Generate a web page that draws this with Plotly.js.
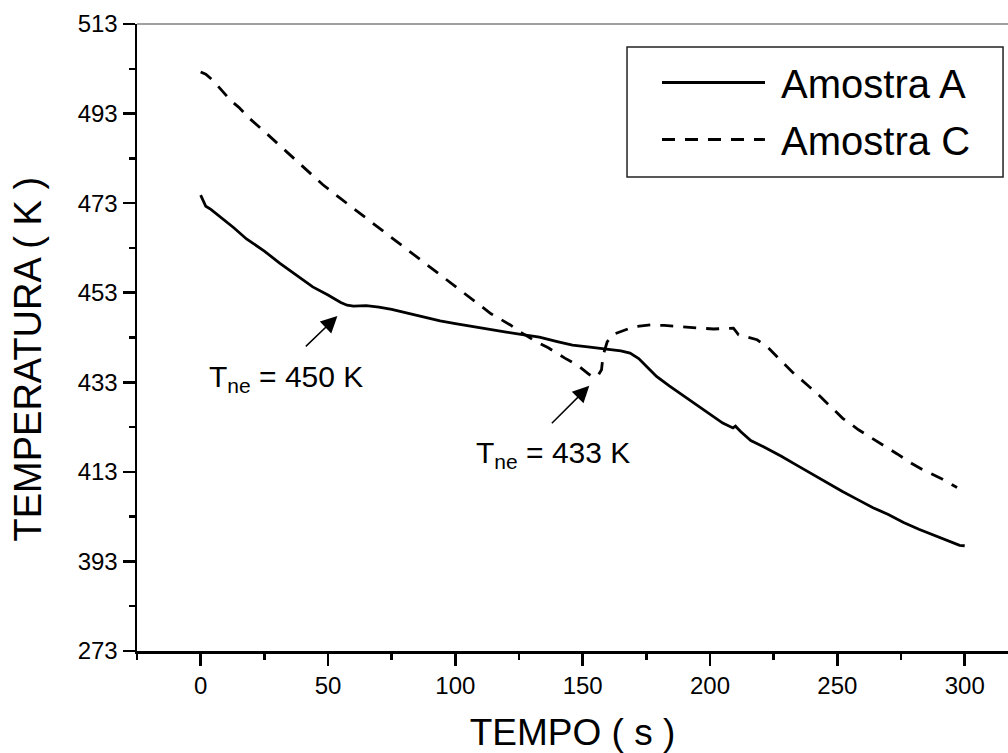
<!DOCTYPE html>
<html>
<head>
<meta charset="utf-8">
<script src="https://cdn.plot.ly/plotly-3.0.1.min.js"></script>
<style>
html, body { margin: 0; padding: 0; background: #ffffff; overflow: hidden; }
#chart { width: 1008px; height: 753px; }
</style>
</head>
<body>
<div id="chart"></div>
<script>
// ---- Data ----
const seriesNames = ["Amostra A", "Amostra C"];

const timeA = [0, 1, 2, 4, 8, 13, 18, 25, 31, 38, 44, 50, 55, 57.5, 60, 65, 70, 75, 80, 85, 90, 94, 100, 107, 113, 120, 127, 133, 140, 146, 152, 159.5, 165, 168.6, 172, 175, 179, 184, 188, 191, 196, 201, 205, 209, 210, 212, 216, 221, 228, 234, 240, 246, 252, 258, 264, 270, 276, 282, 288, 294, 298, 300];
const tempA = [474.8, 473.5, 472.3, 471.6, 469.8, 467.5, 465.0, 462.3, 459.6, 456.8, 454.3, 452.5, 450.8, 450.2, 450.0, 450.1, 449.8, 449.3, 448.6, 448.0, 447.3, 446.7, 446.1, 445.4, 444.9, 444.2, 443.6, 443.1, 442.1, 441.3, 440.9, 440.4, 440.0, 439.5, 438.3, 436.6, 434.3, 432.2, 430.6, 429.3, 427.3, 425.3, 423.9, 422.8, 423.2, 422.0, 420.0, 418.6, 416.5, 414.5, 412.5, 410.5, 408.6, 406.8, 405.0, 403.5, 401.7, 400.2, 398.8, 397.4, 396.6, 396.5];

const timeC = [0, 2, 5, 8, 12, 15, 19, 25, 30, 35, 40, 48, 55, 63, 70, 80, 90, 100, 110, 114, 121.6, 125.6, 132, 136.5, 143, 148, 152, 154, 156, 157.4, 158, 159.6, 162, 165.6, 170, 176.6, 182, 188.4, 195, 201.4, 209.2, 211.2, 218.5, 222.9, 228.4, 232.3, 238.2, 242.6, 248.4, 252, 258.3, 262.3, 268.8, 273.5, 279.4, 283.8, 290.5, 295.5, 297];
const tempC = [502.3, 501.8, 500.3, 498.3, 495.8, 494.4, 492.0, 489.0, 486.4, 483.8, 481.2, 477.1, 474.0, 470.5, 467.5, 463.0, 458.6, 454.3, 450.0, 448.3, 445.8, 444.2, 442.0, 440.7, 438.4, 436.8, 435.0, 434.1, 434.5, 435.8, 439.0, 442.0, 443.7, 444.5, 445.4, 445.8, 445.7, 445.4, 445.2, 444.9, 445.1, 443.6, 442.5, 440.7, 437.5, 435.3, 432.4, 430.2, 427.0, 425.0, 422.4, 421.0, 418.6, 417.0, 414.8, 413.4, 411.6, 409.9, 409.5];

// Axis ticks: the bottom tick is labelled 273 (broken axis in the original)
const yTickVals = [373, 393, 413, 433, 453, 473, 493, 513];
const yTickText = ["273", "393", "413", "433", "453", "473", "493", "513"];
const xTickVals = [0, 50, 100, 150, 200, 250, 300];

// Titles
const xTitle = "TEMPO ( s )";
const yTitle = "TEMPERATURA ( K )";

// Annotations (labels and arrow tips / tails in data units)
const noteTexts = ["T<sub>ne</sub> = 450 K", "T<sub>ne</sub> = 433 K"];
const noteX = [2.5, 107.3];
const noteY = [433.8, 416.8];
const arrowTipX = [53.7, 152.6];
const arrowTipY = [447.8, 432.2];
const arrowTailX = [40.7, 137.3];
const arrowTailY = [440.7, 423.5];

// ---- Plot ----
const FONT = "'Liberation Sans', Arial, Helvetica, sans-serif";
const NB = "\u00a0";

const traces = [
  {
    x: timeA, y: tempA, name: NB + seriesNames[0], type: "scatter", mode: "lines",
    line: { color: "#000000", width: 2.8, dash: "solid" },
    legendgroup: "a"
  },
  {
    x: timeC, y: tempC, name: NB + seriesNames[1], type: "scatter", mode: "lines",
    line: { color: "#000000", width: 2.8, dash: "13px,10px" },
    legendgroup: "c"
  }
];

const annotations = [];
for (let i = 0; i < noteTexts.length; i++) {
  annotations.push({
    x: noteX[i], y: noteY[i], xref: "x", yref: "y",
    text: noteTexts[i], showarrow: false,
    xanchor: "left", yanchor: "middle",
    font: { family: FONT, size: 30, color: "#000000" }
  });
  annotations.push({
    x: arrowTipX[i], y: arrowTipY[i], xref: "x", yref: "y",
    ax: arrowTailX[i], ay: arrowTailY[i], axref: "x", ayref: "y",
    text: "", showarrow: true,
    arrowhead: 2, arrowsize: 2.2, arrowwidth: 1.5, arrowcolor: "#000000"
  });
}
// Y axis title (placed as rotated text, slightly below the axis centre as in the original)
annotations.push({
  x: -0.1246, y: 0.4657, xref: "paper", yref: "paper",
  text: yTitle, textangle: -90, showarrow: false,
  xanchor: "center", yanchor: "middle",
  font: { family: FONT, size: 38, color: "#000000" }
});

const layout = {
  width: 1008, height: 753,
  margin: { l: 137, r: 0, t: 24, b: 102 },
  paper_bgcolor: "#ffffff", plot_bgcolor: "#ffffff",
  font: { family: FONT, color: "#000000" },
  showlegend: true,
  legend: {
    x: 0.597, y: 0.9585, xanchor: "left", yanchor: "top",
    bgcolor: "rgba(0,0,0,0)", borderwidth: 0,
    font: { family: FONT, size: 40, color: "#000000" },
    itemwidth: 103, traceorder: "grouped", tracegroupgap: 2
  },
  xaxis: {
    range: [-25, 317],
    tickvals: xTickVals, ticktext: xTickVals.map(String),
    ticks: "outside", ticklen: 12, tickwidth: 2.5, tickcolor: "#000000",
    minor: { dtick: 25, tick0: 0, ticks: "outside", ticklen: 6, tickwidth: 2.5, tickcolor: "#000000", showgrid: false },
    showline: true, linecolor: "#000000", linewidth: 2.5,
    showgrid: false, zeroline: false,
    tickfont: { family: FONT, size: 24, color: "#000000" },
    title: { text: xTitle, font: { family: FONT, size: 37, color: "#000000" }, standoff: 22 }
  },
  yaxis: {
    range: [373, 513],
    tickvals: yTickVals, ticktext: yTickText,
    ticks: "outside", ticklen: 12, tickwidth: 2.5, tickcolor: "#000000",
    minor: { dtick: 10, tick0: 373, ticks: "outside", ticklen: 6, tickwidth: 2.5, tickcolor: "#000000", showgrid: false },
    showline: true, linecolor: "#000000", linewidth: 2.5,
    showgrid: false, zeroline: false,
    tickfont: { family: FONT, size: 24, color: "#000000" }
  },
  shapes: [
    // top frame line (gray, no ticks)
    { type: "line", xref: "paper", yref: "paper", x0: 0, x1: 1, y0: 1, y1: 1,
      line: { color: "#808080", width: 1.5 } },
    // legend frame
    { type: "rect", xref: "paper", yref: "paper", x0: 0.5626, x1: 0.9943, y0: 0.756, y1: 0.9633,
      line: { color: "#222222", width: 1.5 }, fillcolor: "rgba(0,0,0,0)", layer: "below" }
  ],
  annotations: annotations
};

Plotly.newPlot("chart", traces, layout, { displayModeBar: false, staticPlot: true });
</script>
</body>
</html>
